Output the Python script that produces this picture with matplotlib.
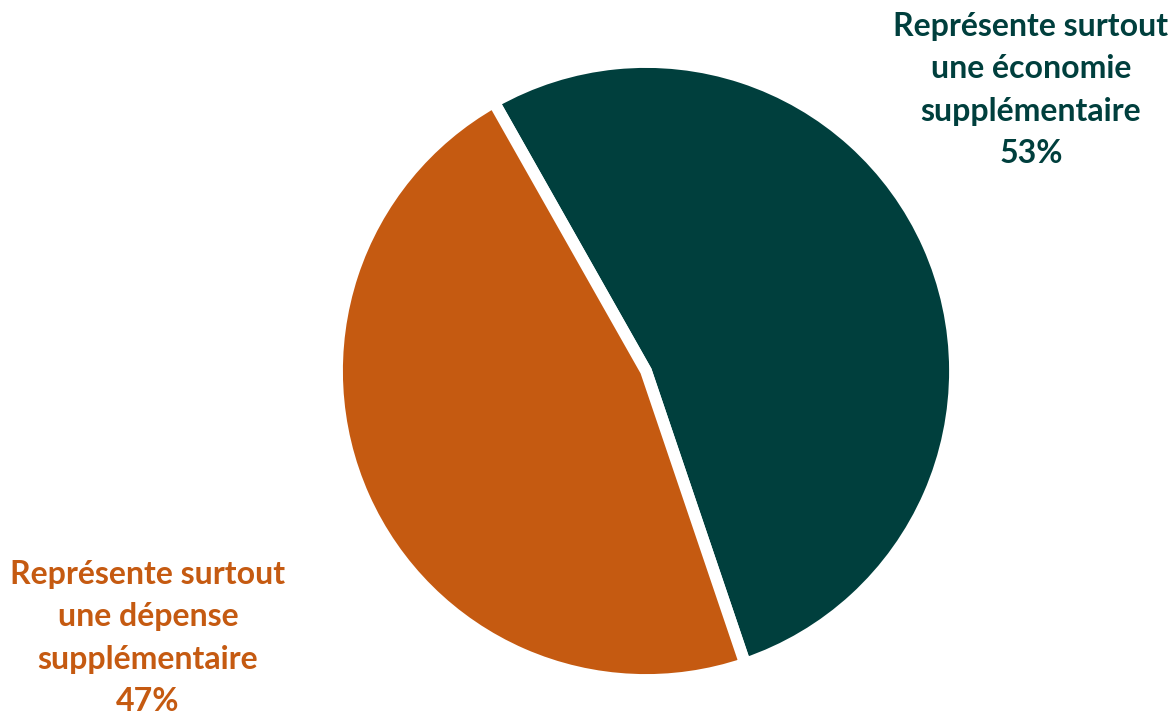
import matplotlib
matplotlib.use("Agg")
import matplotlib.pyplot as plt

labels = ["Représente surtout\nune économie\nsupplémentaire", "Représente surtout\nune dépense\nsupplémentaire"]
values = [53, 47]
colors = ["#003F3D", "#C55A11"]

W, H = 1175, 715
fig = plt.figure(figsize=(W / 100, H / 100), dpi=100)
cx, cy, r = 646, 371, 309
ax = fig.add_axes([(cx - r) / W, 1 - (cy + r) / H, 2 * r / W, 2 * r / H])
ax.pie(values, colors=colors, startangle=119.5, counterclock=False,
       wedgeprops=dict(edgecolor="white", linewidth=8.5), radius=1)
ax.set_xlim(-1, 1)
ax.set_ylim(-1, 1)
ax.set_aspect("equal")
ax.axis("off")

font = dict(family=["Lato", "DejaVu Sans"], fontsize=23, fontweight="bold",
            ha="center", va="center", linespacing=1.55)
fig.text(1031 / W, 1 - 90 / H, f"{labels[0]}\n{values[0]}%", color=colors[0], **font)
fig.text(148 / W, 1 - 638 / H, f"{labels[1]}\n{values[1]}%", color=colors[1], **font)

fig.savefig("out.png", dpi=100)
